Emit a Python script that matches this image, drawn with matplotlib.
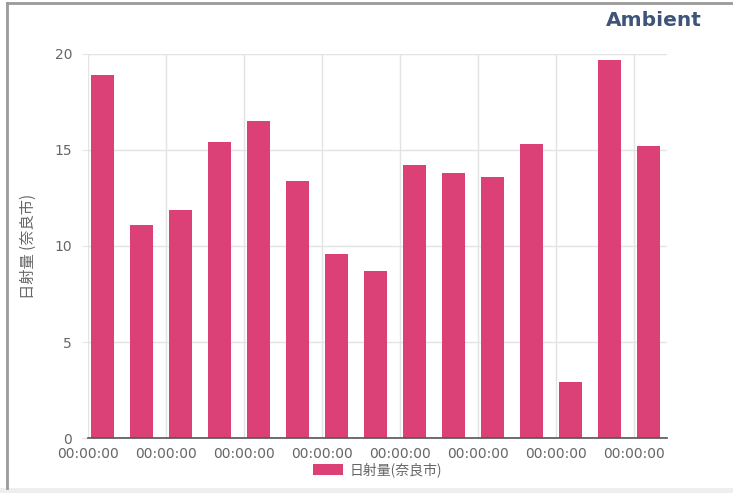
import matplotlib
matplotlib.use("Agg")
import matplotlib.pyplot as plt
from matplotlib.patches import Rectangle
import pandas as pd

plt.rcParams['font.family'] = ['DejaVu Sans', 'Noto Sans CJK JP']

# Daily solar radiation, one reading per day (timestamps at 09:00)
start = "2019-05-01 09:00"
values = [18.9, 11.1, 11.9, 15.4, 16.5, 13.4, 9.6, 8.7,
          14.2, 13.8, 13.6, 15.3, 2.9, 19.7, 15.2]
series_label = "日射量(奈良市)"
y_label = "日射量 (奈良市)"
title = "Ambient"
y_ticks = [0, 5, 10, 15, 20]

dates = pd.date_range(start=start, periods=len(values), freq="D")

bar_color = "#db4077"
grid_color = "#e3e3e3"
text_color = "#666666"

fig = plt.figure(figsize=(7.33, 4.93), dpi=100)
W, H = 733, 493

# card frame: grey border on left/top, light band along the bottom
fig.patches.append(Rectangle((0, 0), 1, 5 / H, transform=fig.transFigure,
                             facecolor="#eeeeee", edgecolor="none", zorder=0))
fig.add_artist(plt.Line2D([7 / W, 7 / W], [5 / H, 1 - 3 / H], transform=fig.transFigure,
                          color="#9a9a9a", lw=2))
fig.add_artist(plt.Line2D([7 / W, 1], [1 - 3 / H, 1 - 3 / H], transform=fig.transFigure,
                          color="#9a9a9a", lw=2))

ax = fig.add_axes([88 / W, 1 - 438 / H, (667 - 88) / W, (438 - 54) / H])

ax.bar(dates, values, width=0.58, color=bar_color, align="center", zorder=3,
       label=series_label)

# time axis starts at midnight of the first day, ticks every two days
x0 = pd.Timestamp(dates[0].date())
ax.set_xlim(x0, x0 + pd.Timedelta(days=14.85))
tick_pos = pd.date_range(start=x0, periods=8, freq="2D")
ax.set_xticks(tick_pos)
ax.set_xticklabels([t.strftime("%H:%M:%S") for t in tick_pos])

ax.set_ylim(0, 20)
ax.set_yticks(y_ticks)

ax.grid(True, color=grid_color, lw=1, zorder=0)
for s in ("top", "right", "left"):
    ax.spines[s].set_visible(False)
ax.spines["bottom"].set_color("#555555")
ax.spines["bottom"].set_linewidth(1.2)
ax.spines["bottom"].set_zorder(4)

ax.tick_params(axis="y", length=4, color=grid_color, labelcolor=text_color,
               labelsize=10, pad=7.5)
ax.tick_params(axis="x", length=0, labelcolor=text_color, labelsize=10, pad=6.5)

ax.set_ylabel(y_label, color=text_color, fontsize=11,
              family=['Noto Sans CJK JP', 'DejaVu Sans'], labelpad=13)

fig.text(702 / W, 1 - 20 / H, title, ha="right", va="center", fontsize=14.5,
         fontweight="bold", color="#3e5479")

leg = ax.legend(loc="center", bbox_to_anchor=(0.5, -0.083), frameon=False,
                borderpad=0, handlelength=2.2, handleheight=0.8, handletextpad=0.5,
                prop={'family': ['Noto Sans CJK JP', 'DejaVu Sans'], 'size': 10})
for t in leg.get_texts():
    t.set_color(text_color)

fig.savefig("out.png", dpi=100)
